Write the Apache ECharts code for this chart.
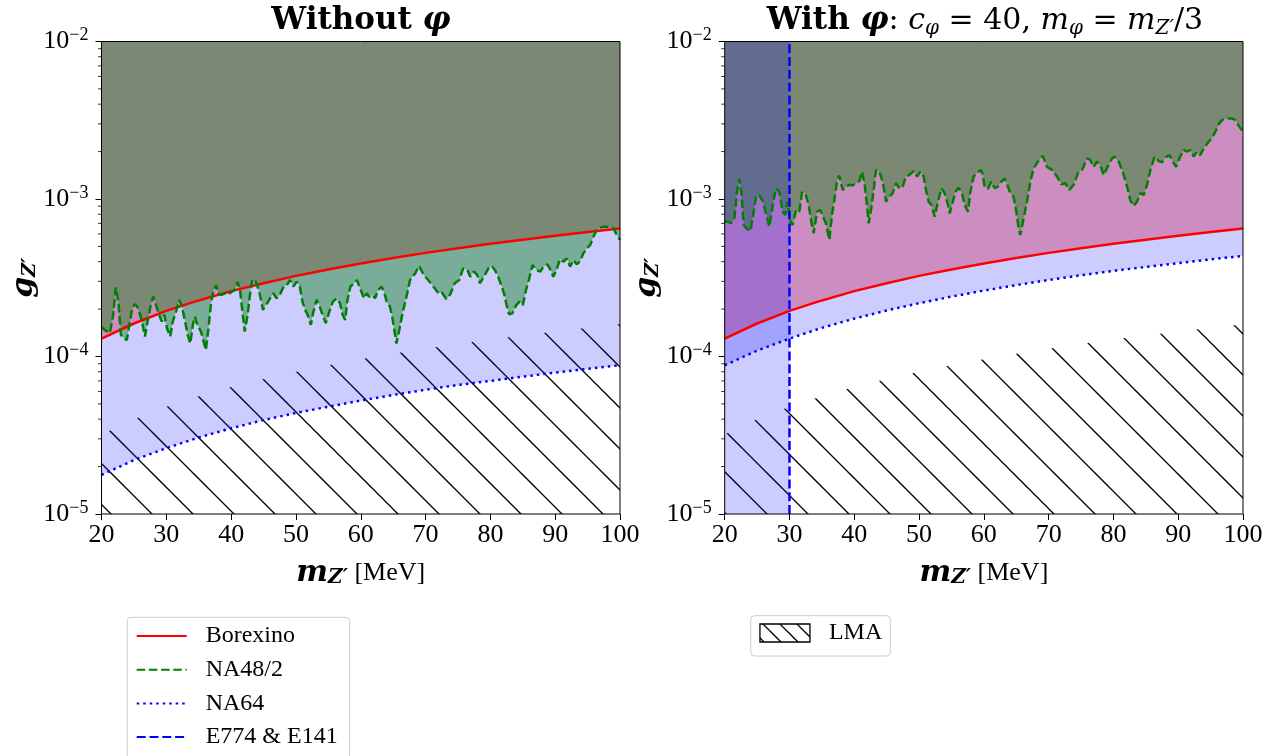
<!DOCTYPE html>
<html><head><meta charset="utf-8">
<script src="https://cdn.jsdelivr.net/npm/echarts@6/dist/echarts.min.js"></script>
<style>html,body{margin:0;padding:0;background:#fff}#c{width:1273px;height:756px}</style>
</head><body><div id="c"></div>
<script>
// ---------- data ----------
const massTicks = [20, 30, 40, 50, 60, 70, 80, 90, 100];
const couplingDecades = [1e-5, 1e-4, 1e-3, 1e-2];
const minorCouplings = [2e-5,3e-5,4e-5,5e-5,6e-5,7e-5,8e-5,9e-5,
                        2e-4,3e-4,4e-4,5e-4,6e-4,7e-4,8e-4,9e-4,
                        2e-3,3e-3,4e-3,5e-3,6e-3,7e-3,8e-3,9e-3];
const curveMass = [20,25,30,35,40,45,50,55,60,65,70,75,80,85,90,95,100];
const borexinoG = [1.30e-4,1.62e-4,1.95e-4,2.27e-4,2.60e-4,2.92e-4,3.25e-4,3.57e-4,3.90e-4,4.22e-4,4.55e-4,4.87e-4,5.20e-4,5.52e-4,5.85e-4,6.17e-4,6.50e-4];
const na64LeftG = [1.77e-5,2.20e-5,2.62e-5,3.06e-5,3.50e-5,3.95e-5,4.38e-5,4.80e-5,5.25e-5,5.70e-5,6.15e-5,6.60e-5,7.00e-5,7.45e-5,7.90e-5,8.35e-5,8.80e-5];
const na64RightG = [8.8e-5,1.09e-4,1.30e-4,1.52e-4,1.74e-4,1.96e-4,2.18e-4,2.40e-4,2.62e-4,2.84e-4,3.06e-4,3.28e-4,3.50e-4,3.70e-4,3.92e-4,4.14e-4,4.35e-4];
const lmaG = [3.2e-5,4.0e-5,4.8e-5,5.6e-5,6.4e-5,7.2e-5,8.0e-5,8.8e-5,9.6e-5,1.04e-4,1.12e-4,1.20e-4,1.28e-4,1.36e-4,1.44e-4,1.52e-4,1.60e-4];
const e774Mass = 30;
const na48Left = [[20.0,1.55e-4],[20.4,1.48e-4],[21.3,1.41e-4],[21.8,1.84e-4],[22.2,2.74e-4],[22.6,2.23e-4],[23.0,1.37e-4],[23.4,1.31e-4],[23.9,1.27e-4],[24.3,1.59e-4],[24.65,1.93e-4],[25.1,2.15e-4],[25.5,2.08e-4],[25.9,1.88e-4],[26.35,1.59e-4],[26.7,1.34e-4],[27.2,1.75e-4],[27.6,2.12e-4],[28.0,2.40e-4],[28.4,2.12e-4],[28.9,1.84e-4],[29.3,1.67e-4],[29.7,1.84e-4],[30.1,1.51e-4],[30.6,1.34e-4],[31.0,1.67e-4],[31.5,1.93e-4],[32.0,2.29e-4],[32.4,2.08e-4],[32.9,1.67e-4],[33.3,1.37e-4],[33.7,1.21e-4],[34.1,1.59e-4],[34.4,1.79e-4],[34.8,1.59e-4],[35.35,1.44e-4],[35.7,1.27e-4],[36.1,1.10e-4],[36.5,1.51e-4],[36.9,2.18e-4],[37.3,2.65e-4],[37.7,2.84e-4],[38.0,2.52e-4],[38.5,2.46e-4],[39.1,2.52e-4],[39.6,2.48e-4],[40.1,2.58e-4],[40.6,2.65e-4],[41.0,2.98e-4],[41.4,2.58e-4],[41.8,1.84e-4],[42.1,1.44e-4],[42.55,1.84e-4],[42.9,2.46e-4],[43.3,3.10e-4],[43.8,2.98e-4],[44.35,2.58e-4],[44.9,1.98e-4],[45.4,2.12e-4],[46.0,2.34e-4],[46.5,2.52e-4],[47.0,2.34e-4],[47.5,2.46e-4],[48.1,2.78e-4],[48.6,2.84e-4],[49.1,3.06e-4],[49.6,2.78e-4],[50.1,2.98e-4],[50.6,2.78e-4],[51.0,2.23e-4],[51.4,1.98e-4],[51.8,1.84e-4],[52.3,1.59e-4],[52.7,1.93e-4],[53.2,2.29e-4],[53.6,2.12e-4],[54.1,1.84e-4],[54.6,1.63e-4],[55.15,1.93e-4],[55.7,2.23e-4],[56.3,2.34e-4],[56.8,2.18e-4],[57.2,1.84e-4],[57.6,1.71e-4],[57.9,2.23e-4],[58.4,2.78e-4],[59.0,2.92e-4],[59.4,3.06e-4],[59.8,2.78e-4],[60.2,2.52e-4],[60.5,2.34e-4],[60.9,2.52e-4],[61.3,2.40e-4],[61.8,2.46e-4],[62.2,2.34e-4],[62.7,2.65e-4],[63.2,2.78e-4],[63.6,2.58e-4],[64.0,2.23e-4],[64.5,2.08e-4],[64.9,1.75e-4],[65.3,1.37e-4],[65.5,1.21e-4],[65.95,1.48e-4],[66.5,1.93e-4],[67.0,2.34e-4],[67.6,3.06e-4],[68.4,3.37e-4],[69.0,3.77e-4],[69.7,3.30e-4],[70.4,3.06e-4],[71.2,2.78e-4],[72.0,2.52e-4],[72.5,2.56e-4],[73.2,2.32e-4],[73.8,2.48e-4],[74.5,2.92e-4],[75.2,3.06e-4],[75.8,3.63e-4],[76.45,3.54e-4],[76.9,3.21e-4],[77.4,3.46e-4],[77.9,3.33e-4],[78.4,2.92e-4],[79.0,3.21e-4],[79.7,3.63e-4],[80.2,3.77e-4],[80.7,3.54e-4],[81.2,3.21e-4],[81.75,2.78e-4],[82.1,2.52e-4],[82.5,2.12e-4],[82.9,1.85e-4],[83.4,1.88e-4],[84.0,2.12e-4],[84.5,2.23e-4],[85.0,2.12e-4],[85.5,2.65e-4],[86.0,3.13e-4],[86.5,3.81e-4],[87.1,3.54e-4],[87.7,3.46e-4],[88.2,3.72e-4],[88.8,3.85e-4],[89.3,3.54e-4],[89.7,3.21e-4],[90.2,3.54e-4],[90.75,4.16e-4],[91.3,4.00e-4],[91.8,4.20e-4],[92.3,3.72e-4],[92.8,4.10e-4],[93.3,3.85e-4],[93.8,4.00e-4],[94.35,4.52e-4],[94.9,4.86e-4],[95.4,5.11e-4],[95.9,5.77e-4],[96.4,6.36e-4],[96.9,6.58e-4],[97.7,6.68e-4],[98.5,6.58e-4],[99.0,6.52e-4],[99.5,5.91e-4],[100,5.50e-4]];
const na48Right = [[20.0,7.2e-4],[20.1,7.01e-4],[20.5,7.18e-4],[21.0,7.01e-4],[21.5,7.54e-4],[21.9,1.11e-3],[22.26,1.34e-3],[22.57,1.11e-3],[22.93,6.84e-4],[23.44,6.46e-4],[23.96,6.27e-4],[24.47,8.31e-4],[24.88,1.06e-3],[25.4,1.05e-3],[25.91,9.62e-4],[26.43,7.91e-4],[26.89,6.68e-4],[27.4,9.16e-4],[27.92,1.17e-3],[28.43,1.11e-3],[28.95,8.31e-4],[29.36,7.91e-4],[29.62,9.62e-4],[30.13,7.18e-4],[30.49,6.84e-4],[31.0,8.51e-4],[31.52,8.31e-4],[31.93,1.10e-3],[32.44,1.09e-3],[32.96,9.16e-4],[33.37,7.18e-4],[33.73,6.05e-4],[34.25,8.31e-4],[34.76,8.51e-4],[35.28,7.54e-4],[35.63,7.01e-4],[36.15,5.50e-4],[36.56,7.91e-4],[37.08,1.09e-3],[37.33,1.29e-3],[37.69,1.41e-3],[38.21,1.14e-3],[38.72,1.20e-3],[39.24,1.23e-3],[39.75,1.22e-3],[40.27,1.26e-3],[40.78,1.30e-3],[41.19,1.49e-3],[41.6,1.23e-3],[41.96,9.16e-4],[42.22,7.01e-4],[42.63,8.73e-4],[42.99,1.14e-3],[43.35,1.53e-3],[43.87,1.49e-3],[44.38,1.29e-3],[44.9,9.62e-4],[45.41,1.03e-3],[45.93,1.09e-3],[46.44,1.26e-3],[46.95,1.17e-3],[47.47,1.20e-3],[47.98,1.39e-3],[48.5,1.42e-3],[49.17,1.51e-3],[49.68,1.39e-3],[50.19,1.49e-3],[50.71,1.39e-3],[51.07,1.14e-3],[51.48,9.62e-4],[51.89,9.16e-4],[52.41,7.73e-4],[52.92,9.62e-4],[53.44,1.17e-3],[53.95,1.09e-3],[54.47,9.16e-4],[54.72,8.11e-4],[55.08,9.16e-4],[55.6,1.11e-3],[56.11,1.18e-3],[56.63,1.09e-3],[57.04,9.16e-4],[57.55,8.31e-4],[57.91,1.11e-3],[58.43,1.39e-3],[58.94,1.46e-3],[59.51,1.53e-3],[59.8,1.45e-3],[60.12,1.20e-3],[60.64,1.16e-3],[61.15,1.29e-3],[61.67,1.17e-3],[62.18,1.20e-3],[62.7,1.29e-3],[63.21,1.35e-3],[63.62,1.23e-3],[64.09,1.09e-3],[64.6,1.03e-3],[65.01,8.31e-4],[65.37,6.52e-4],[65.63,5.91e-4],[66.14,7.54e-4],[66.66,9.62e-4],[67.17,1.29e-3],[67.69,1.57e-3],[68.36,1.73e-3],[69.08,1.88e-3],[69.75,1.60e-3],[70.52,1.53e-3],[71.29,1.39e-3],[71.96,1.24e-3],[72.57,1.26e-3],[73.19,1.14e-3],[73.86,1.23e-3],[74.53,1.46e-3],[75.15,1.53e-3],[75.92,1.81e-3],[76.43,1.77e-3],[76.95,1.60e-3],[77.46,1.73e-3],[77.97,1.64e-3],[78.49,1.42e-3],[79.0,1.57e-3],[79.78,1.81e-3],[80.19,1.86e-3],[80.81,1.73e-3],[81.32,1.53e-3],[81.84,1.32e-3],[82.25,1.14e-3],[82.61,9.81e-4],[83.13,9.03e-4],[83.64,9.62e-4],[84.16,1.09e-3],[84.67,1.06e-3],[85.19,1.23e-3],[85.7,1.53e-3],[86.37,1.86e-3],[86.99,1.74e-3],[87.5,1.71e-3],[88.01,1.83e-3],[88.63,1.90e-3],[89.14,1.74e-3],[89.66,1.60e-3],[90.17,1.81e-3],[90.84,2.05e-3],[91.35,2.00e-3],[91.87,2.05e-3],[92.38,1.86e-3],[92.9,2.00e-3],[93.41,1.90e-3],[93.93,2.10e-3],[94.7,2.31e-3],[95.21,2.43e-3],[95.73,2.67e-3],[96.34,3.02e-3],[96.76,3.17e-3],[97.53,3.25e-3],[98.3,3.25e-3],[98.81,3.17e-3],[99.43,2.88e-3],[100,2.67e-3]];
const panelTitles = ['Without', 'With'];

// ---------- helpers ----------
function pairs(xs, ys) { return xs.map((x, i) => [x, ys[i]]); }
function hatchCanvas(step, phase, lw) {
  const c = document.createElement('canvas');
  c.width = step; c.height = step;
  const ctx = c.getContext('2d');
  ctx.strokeStyle = '#000'; ctx.lineWidth = lw;
  for (let k = -1; k <= 1; k++) {
    const x0 = phase + k * step;
    ctx.beginPath(); ctx.moveTo(x0 - 2, -2); ctx.lineTo(x0 + step + 2, step + 2); ctx.stroke();
  }
  return c;
}
const plotHatch = { image: hatchCanvas(41, 7, 1.3), repeat: 'repeat' };
const iconHatch = { image: hatchCanvas(17, 3, 1.3), repeat: 'repeat' };

const SERIF = 'Liberation Serif';
const DJV = 'DejaVu Serif';
const grids = [
  { left: 101.5, top: 41.5, width: 518.5, height: 472.5, show: true, borderColor: '#000', borderWidth: 1, backgroundColor: 'transparent', z: 20 },
  { left: 724.7, top: 41.5, width: 518.3, height: 472.5, show: true, borderColor: '#000', borderWidth: 1, backgroundColor: 'transparent', z: 20 }
];

function xAxis(i) {
  return {
    type: 'value', gridIndex: i, min: 20, max: 100, interval: 10,
    name: '{mb|m}{sb|Z′}{r| [MeV]}', nameLocation: 'middle', nameGap: 44,
    nameTextStyle: { rich: {
      mb: { fontFamily: DJV, fontSize: 30, fontWeight: 'bold', fontStyle: 'italic', lineHeight: 30, color: '#000' },
      sb: { fontFamily: DJV, fontSize: 20, fontWeight: 'bold', fontStyle: 'italic', lineHeight: 14, verticalAlign: 'bottom', color: '#000' },
      r:  { fontFamily: SERIF, fontSize: 26, lineHeight: 30, color: '#000' } } },
    axisLine: { show: false },
    axisTick: { show: true, inside: false, length: 6, lineStyle: { color: '#000', width: 1 } },
    axisLabel: { fontFamily: SERIF, fontSize: 26, color: '#000', margin: 8 },
    splitLine: { show: false }
  };
}
function yAxis(i) {
  return {
    type: 'log', logBase: 10, gridIndex: i, min: 1e-5, max: 1e-2,
    name: '{gb|g}{sb|Z′}', nameLocation: 'middle', nameRotate: 90, nameGap: 60,
    nameTextStyle: { rich: {
      gb: { fontFamily: DJV, fontSize: 30, fontWeight: 'bold', fontStyle: 'italic', lineHeight: 30, color: '#000' },
      sb: { fontFamily: DJV, fontSize: 19, fontWeight: 'bold', fontStyle: 'italic', lineHeight: 14, verticalAlign: 'bottom', color: '#000' } } },
    axisLine: { show: false },
    axisTick: { show: true, inside: false, length: 6, lineStyle: { color: '#000', width: 1 } },
    axisLabel: {
      margin: 13,
      formatter: v => { const e = Math.round(Math.log10(v)); return '{b|10}{s|−' + (-e) + '}'; },
      rich: {
        b: { fontFamily: SERIF, fontSize: 26, lineHeight: 30, color: '#000' },
        s: { fontFamily: SERIF, fontSize: 18, lineHeight: 19, verticalAlign: 'top', color: '#000' }
      }
    },
    splitLine: { show: false }
  };
}

const series = [];
[0, 1].forEach(i => {
  const na64 = i === 0 ? na64LeftG : na64RightG;
  const na48 = i === 0 ? na48Left : na48Right;
  const base = { type: 'line', xAxisIndex: i, yAxisIndex: i, symbol: 'none', showSymbol: false, silent: true, animation: false };
  series.push(Object.assign({}, base, { name: 'LMA', z: 2, color: '#000',
    data: pairs(curveMass, lmaG), lineStyle: { width: 0, opacity: 0 },
    areaStyle: { color: plotHatch, origin: 'start', opacity: 1 } }));
  series.push(Object.assign({}, base, { name: '_bxfill' + i, z: 3,
    data: pairs(curveMass, borexinoG), lineStyle: { width: 0, opacity: 0 },
    areaStyle: { color: 'rgba(255,0,0,0.3)', origin: 'end', opacity: 1 } }));
  series.push(Object.assign({}, base, { name: '_na64fill' + i, z: 4,
    data: pairs(curveMass, na64), lineStyle: { width: 0, opacity: 0 },
    areaStyle: { color: 'rgba(0,0,255,0.2)', origin: 'end', opacity: 1 } }));
  series.push(Object.assign({}, base, { name: '_na48fill' + i, z: 5,
    data: na48, lineStyle: { width: 0, opacity: 0 },
    areaStyle: { color: 'rgba(0,128,0,0.4)', origin: 'end', opacity: 1 } }));
  if (i === 1) {
    series.push(Object.assign({}, base, { name: '_e774fill', z: 6,
      data: [[20, couplingDecades[3]], [e774Mass, couplingDecades[3]]], lineStyle: { width: 0, opacity: 0 },
      areaStyle: { color: 'rgba(0,0,255,0.2)', origin: 'start', opacity: 1 } }));
  }
  series.push(Object.assign({}, base, { name: 'Borexino', z: 8, color: '#ff0000',
    data: pairs(curveMass, borexinoG), lineStyle: { color: '#ff0000', width: 2.5, type: 'solid' } }));
  series.push(Object.assign({}, base, { name: 'NA48/2', z: 9, color: '#008000',
    data: na48, lineStyle: { color: '#008000', width: 2.5, type: [8.5, 3.7] } }));
  series.push(Object.assign({}, base, { name: 'NA64', z: 8, color: '#0000ff',
    data: pairs(curveMass, na64), lineStyle: { color: '#0000ff', width: 2.5, type: [2.5, 4] } }));
  if (i === 1) {
    series.push(Object.assign({}, base, { name: 'E774 & E141', z: 9, color: '#0000ff',
      data: [[e774Mass, couplingDecades[0]], [e774Mass, couplingDecades[3]]],
      lineStyle: { color: '#0000ff', width: 2.5, type: [9, 3.8] } }));
  }
  series.push({ type: 'custom', xAxisIndex: i, yAxisIndex: i, silent: true, clip: false, z: 21,
    data: minorCouplings.map(v => [20, v]),
    renderItem: (p, api) => {
      const pt = api.coord([api.value(0), api.value(1)]);
      return { type: 'line', shape: { x1: pt[0] - 3.5, y1: pt[1], x2: pt[0], y2: pt[1] }, style: { stroke: '#000', lineWidth: 0.8 } };
    } });
});

const titleRich = {
  wb: { fontFamily: DJV, fontSize: 31, fontWeight: 'bold', lineHeight: 36, color: '#000' },
  pb: { fontFamily: DJV, fontSize: 31, fontWeight: 'bold', fontStyle: 'italic', lineHeight: 36, color: '#000' },
  r:  { fontFamily: DJV, fontSize: 30, fontWeight: 'normal', lineHeight: 36, color: '#000' },
  mi: { fontFamily: DJV, fontSize: 30, fontWeight: 'normal', fontStyle: 'italic', lineHeight: 36, color: '#000' },
  sub:{ fontFamily: DJV, fontSize: 20, fontWeight: 'normal', fontStyle: 'italic', lineHeight: 16, verticalAlign: 'bottom', color: '#000' }
};

const option = {
  animation: false,
  backgroundColor: '#fff',
  title: [
    { text: '{wb|' + panelTitles[0] + ' }{pb|φ}', left: 361, top: 3, textAlign: 'center', padding: 0, textStyle: { rich: titleRich } },
    { text: '{wb|' + panelTitles[1] + ' }{pb|φ}{r|: }{mi|c}{sub|φ}{r| = 40, }{mi|m}{sub|φ}{r| = }{mi|m}{sub|Z′}{r|/3}',
      left: 985, top: 3, textAlign: 'center', padding: 0, textStyle: { rich: titleRich } }
  ],
  grid: grids,
  xAxis: [xAxis(0), xAxis(1)],
  yAxis: [yAxis(0), yAxis(1)],
  legend: [
    { data: ['Borexino', 'NA48/2', 'NA64', 'E774 & E141'], orient: 'vertical', left: 127.3, top: 617.3, height: 170,
      padding: [6.7, 12, 10, 8.4], itemWidth: 50, itemHeight: 14, itemGap: 9.7, selectedMode: false,
      itemStyle: { opacity: 0 },
      textStyle: { fontFamily: SERIF, fontSize: 24, color: '#000', lineHeight: 24, padding: [0, 0, 0, 14] },
      borderColor: '#cccccc', borderWidth: 1, borderRadius: 4, backgroundColor: '#fff' },
    { data: [{ name: 'LMA', icon: 'rect', itemStyle: { color: iconHatch, borderColor: '#000', borderWidth: 1.3, opacity: 1 } }],
      orient: 'vertical', left: 750.7, top: 615.7,
      padding: [5.3, 8, 11, 8.6], itemWidth: 50, itemHeight: 18, selectedMode: false,
      textStyle: { fontFamily: SERIF, fontSize: 24, color: '#000', lineHeight: 24, padding: [0, 0, 0, 14] },
      borderColor: '#cccccc', borderWidth: 1, borderRadius: 4, backgroundColor: '#fff' }
  ],
  series: series
};
const chart = echarts.init(document.getElementById('c'), null, { renderer: 'canvas' });
chart.setOption(option);
</script></body></html>
